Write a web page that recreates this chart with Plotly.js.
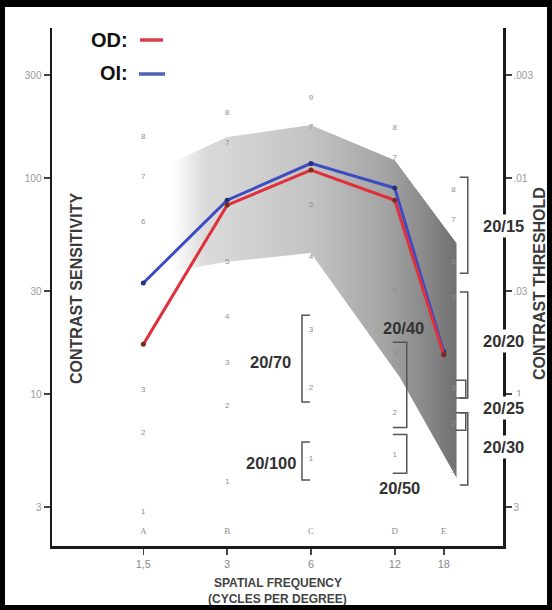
<!DOCTYPE html>
<html><head><meta charset="utf-8">
<script src="https://cdn.plot.ly/plotly-3.0.1.min.js"></script>
<style>
html,body{margin:0;padding:0;background:#fff;}
#wrap{position:relative;width:552px;height:610px;}
#chart{width:552px;height:610px;}
#frame{position:absolute;left:0;top:0;width:552px;height:610px;box-sizing:border-box;border-style:solid;border-color:#000;border-width:7px 5px 5px 5px;pointer-events:none;}
</style></head><body>
<div id="wrap"><div id="chart"></div><div id="frame"></div></div>
<script>
// ---- data ----
const freq = [1.5, 3, 6, 12, 18];
const freqLabels = ['1,5', '3', '6', '12', '18'];
const od = [17, 75, 109, 79, 15.2];   // right eye (OD)
const oi = [32.7, 79, 117, 90, 15.7]; // left eye (OI)

const csTicks = [3, 10, 30, 100, 300];
const csTickLabels = ['3', '10', '30', '100', '300'];
const thrTickLabels = ['3', '.1', '.03', '.01', '.003'];

// normal range band (upper edge left->right, lower edge right->left)
const bandUpperFreq = [1.9, 3, 6, 12, 20];
const bandUpper = [118, 155, 176, 121, 50];
const bandLowerFreq = [20, 12.5, 6, 3, 1.9];
const bandLower = [4.1, 12, 45, 41, 37];

// chart patch numbers per column
const digitFreq = [1.5,1.5,1.5,1.5,1.5,1.5, 3,3,3,3,3,3,3, 6,6,6,6,6,6,6, 12,12,12,12,12,12, 19.5,19.5,19.5,19.5,19.5,19.5,19.5];
const digitText = ['8','7','6','3','2','1', '8','7','5','4','3','2','1', '9','7','5','4','3','2','1', '8','7','4','3','2','1', '8','7','6','5','3','2','1'];
const digitCS = [155,101,62.7,10.4,6.6,2.85, 200,145,40.9,22.7,13.9,8.8,3.9, 235,172,75,43,19.8,10.7,5.0, 170,124,30.3,15.5,8.2,5.2, 88,64,40.9,27.8,10.7,7.3,4.4];
const rowLetters = ['A', 'B', 'C', 'D', 'E'];
const rowLetterCS = [2.3, 2.3, 2.3, 2.3, 2.3];

// acuity-equivalent brackets
const bracketCol = [6, 6, 12, 12, 18, 18, 18, 18, 18];
const bracketLow = [9.2, 4.0, 7.0, 4.3, 36.3, 9.6, 9.6, 3.8, 6.8];
const bracketHigh = [23.2, 6.0, 17.4, 6.5, 101, 29.7, 11.6, 8.2, 8.2];
const inlineLabels = ['20/70', '20/100', '20/40', '20/50'];
const inlineLabelCol = [6, 6, 12, 12];
const inlineLabelCS = [14.1, 4.8, 20.2, 3.67];
const axisLabels = ['20/15', '20/20', '20/25', '20/30'];
const axisLabelCS = [60, 17.6, 8.6, 5.7];

// ---- styling helpers ----
const PX_PER_OCT = 83.8;
const shiftF = (f, px) => f * Math.pow(2, px / PX_PER_OCT);
// [vertical line offset, tick end offset] in px per bracket
const bracketGeom = [[-9,-1],[-9,-1],[12,-2],[12,-2],[24,16],[24,16],[22,12],[24,16],[22,12]];
const inlineLabelStyle = [
  {xanchor:'right', xshift:-18}, {xanchor:'right', xshift:-13},
  {xanchor:'center', xshift:9}, {xanchor:'center', xshift:5}
];
const labelFont = {size: 16.5, color: '#333', family: 'Liberation Sans, Arial', weight: 'bold'};

const traces = [];
traces.push({
  x: bandUpperFreq.concat(bandLowerFreq),
  y: bandUpper.concat(bandLower),
  type: 'scatter', mode: 'lines', fill: 'toself',
  line: {width: 0, color: 'rgba(0,0,0,0)'},
  fillgradient: {type: 'horizontal', colorscale: [
    [0, 'rgba(255,255,255,1)'], [0.12, '#dadada'], [0.3, '#cfcfcf'], [0.5, '#c2c2c2'],
    [0.75, '#a4a4a4'], [0.9, '#878787'], [1, '#707070']]},
  hoverinfo: 'skip', showlegend: false
});
bracketCol.forEach((c, i) => {
  const [v, t] = bracketGeom[i];
  const xv = shiftF(c, v), xt = shiftF(c, t);
  traces.push({
    x: [xt, xv, xv, xt], y: [bracketHigh[i], bracketHigh[i], bracketLow[i], bracketLow[i]],
    type: 'scatter', mode: 'lines', line: {color: '#555', width: 1.5},
    hoverinfo: 'skip', showlegend: false
  });
});
traces.push({
  x: digitFreq, y: digitCS, text: digitText, type: 'scatter', mode: 'text',
  textfont: {size: 8, color: '#909090', family: 'Liberation Sans, Arial'},
  yaxis: 'y2', hoverinfo: 'skip', showlegend: false
});
traces.push({
  x: freq, y: rowLetterCS, text: rowLetters, type: 'scatter', mode: 'text',
  textfont: {size: 9, color: '#8a8a8a', family: 'Liberation Serif, serif'},
  hoverinfo: 'skip', showlegend: false
});
traces.push({
  x: freq, y: oi, name: 'OI', type: 'scatter', mode: 'lines+markers',
  line: {color: '#3c4cc2', width: 3}, marker: {size: 5, color: '#24307a'},
  showlegend: false
});
traces.push({
  x: freq, y: od, name: 'OD', type: 'scatter', mode: 'lines+markers',
  line: {color: '#e0303c', width: 3}, marker: {size: 5, color: '#7a2a20'},
  showlegend: false
});

const W = 552, H = 610, L = 52, R = 49, T = 28, B = 64;
const pw = W - L - R, ph = H - T - B;
const px2x = px => (px - L) / pw;
const px2y = py => (H - B - py) / ph;

const annotations = [];
inlineLabels.forEach((s, i) => {
  annotations.push(Object.assign({
    text: s, xref: 'x', yref: 'y', x: Math.log10(inlineLabelCol[i]), y: Math.log10(inlineLabelCS[i]),
    yanchor: 'middle', showarrow: false, font: labelFont
  }, inlineLabelStyle[i]));
});
axisLabels.forEach((s, i) => {
  annotations.push({
    text: s, xref: 'paper', yref: 'y', x: 1, y: Math.log10(axisLabelCS[i]),
    xanchor: 'center', yanchor: 'middle', showarrow: false, bgcolor: '#fff', borderpad: 2,
    font: labelFont
  });
});
annotations.push(
  {text: 'OD:', xref: 'paper', yref: 'paper', x: px2x(130), y: px2y(40), xanchor: 'right', yanchor: 'middle',
   showarrow: false, font: {size: 20, color: '#111', family: 'Liberation Sans, Arial', weight: 'bold'}},
  {text: 'OI:', xref: 'paper', yref: 'paper', x: px2x(130), y: px2y(73), xanchor: 'right', yanchor: 'middle',
   showarrow: false, font: {size: 20, color: '#111', family: 'Liberation Sans, Arial', weight: 'bold'}},
  {text: 'CONTRAST SENSITIVITY', xref: 'paper', yref: 'paper', x: px2x(76), y: px2y(289), textangle: -90,
   xanchor: 'center', yanchor: 'middle', showarrow: false,
   font: {size: 16, color: '#3a3a3a', family: 'Liberation Sans, Arial', weight: 'bold'}},
  {text: 'CONTRAST THRESHOLD', xref: 'paper', yref: 'paper', x: px2x(539), y: px2y(284), textangle: -90,
   xanchor: 'center', yanchor: 'middle', showarrow: false,
   font: {size: 16, color: '#3a3a3a', family: 'Liberation Sans, Arial', weight: 'bold'}},
  {text: 'SPATIAL FREQUENCY', xref: 'paper', yref: 'paper', x: 0.5, y: px2y(583), xanchor: 'center', yanchor: 'middle',
   showarrow: false, font: {size: 12, color: '#444', family: 'Liberation Sans, Arial', weight: 'bold'}},
  {text: '(CYCLES PER DEGREE)', xref: 'paper', yref: 'paper', x: 0.5, y: px2y(599), xanchor: 'center', yanchor: 'middle',
   showarrow: false, font: {size: 12, color: '#444', family: 'Liberation Sans, Arial', weight: 'bold'}}
);

const shapes = [
  {type: 'line', xref: 'paper', yref: 'paper', x0: px2x(140), x1: px2x(163), y0: px2y(40), y1: px2y(40),
   line: {color: '#d84050', width: 3.5}},
  {type: 'line', xref: 'paper', yref: 'paper', x0: px2x(139), x1: px2x(165), y0: px2y(74), y1: px2y(74),
   line: {color: '#5060b4', width: 3.5}}
];

const yRange = [0.297, 2.695];
const axisCommon = {
  showline: true, linecolor: '#1a1a1a', linewidth: 2.5, showgrid: false, zeroline: false,
  ticks: 'outside', ticklen: 6, tickwidth: 1.5, tickcolor: '#444'
};
const layout = {
  width: W, height: H, margin: {l: L, r: R, t: T, b: B},
  paper_bgcolor: '#fff', plot_bgcolor: '#fff', showlegend: false, hovermode: false,
  font: {family: 'Liberation Sans, Arial'},
  xaxis: Object.assign({}, axisCommon, {
    type: 'log', range: [-0.152, 1.468], tickmode: 'array', tickvals: freq, ticktext: freqLabels,
    tickfont: {size: 11, color: '#8a8a8a'}
  }),
  yaxis: Object.assign({}, axisCommon, {
    type: 'log', range: yRange, tickmode: 'array', tickvals: csTicks, ticktext: csTickLabels,
    tickfont: {size: 10, color: '#9a9a9a'}
  }),
  yaxis2: Object.assign({}, axisCommon, {
    type: 'log', range: yRange, overlaying: 'y', side: 'right', tickmode: 'array',
    tickvals: csTicks, ticktext: thrTickLabels, tickfont: {size: 10, color: '#9a9a9a'}
  }),
  annotations: annotations, shapes: shapes
};
Plotly.newPlot('chart', traces, layout, {displayModeBar: false, staticPlot: true});
</script>
</body></html>
